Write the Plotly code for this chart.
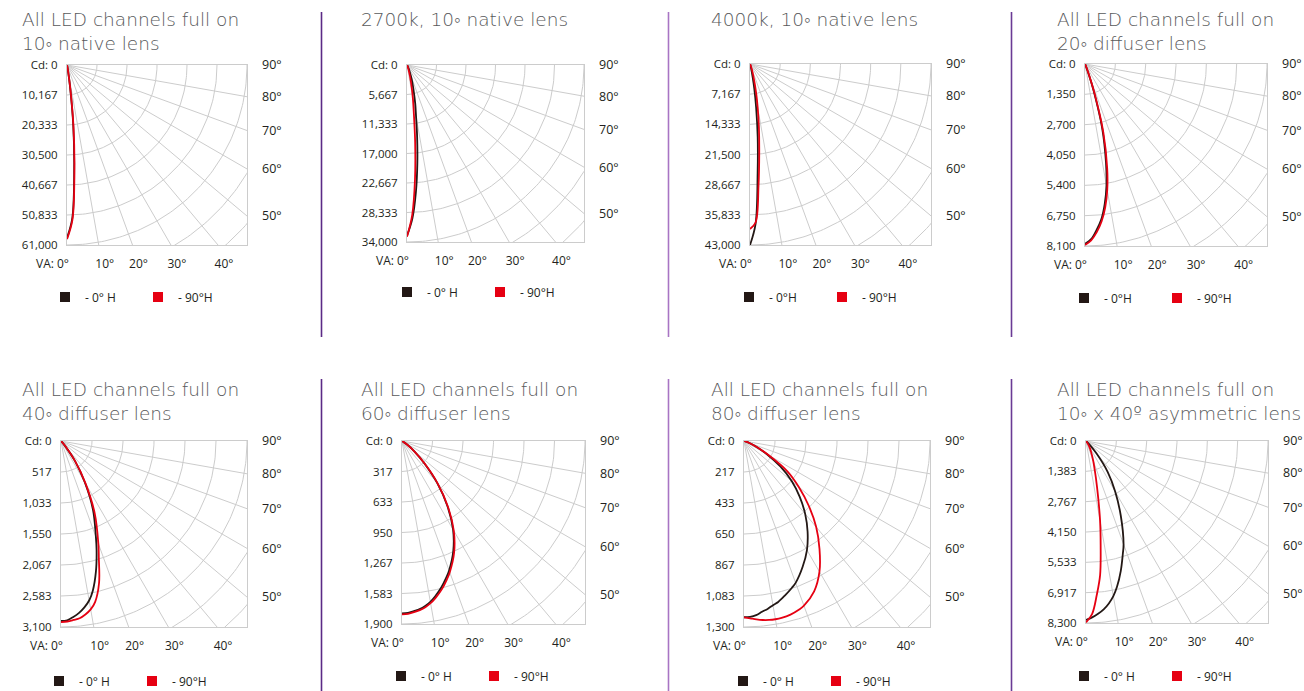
import numpy as np
import plotly.graph_objects as go

W, H = 1304, 691

# ---------------- data ----------------
ANGLES = [0, 2, 4, 6, 8, 10, 12, 15, 18, 20, 25, 30, 35, 40, 45, 50, 55, 60, 65, 70, 80, 90]

# luminous intensity (cd) per vertical angle, 0°H (black) and 90°H (red)
ALL_NATIVE10_0H = [58600, 51800, 35000, 20000, 7200, 1800, 500, 100, 0, 0, 0, 0, 0, 0, 0, 0, 0, 0, 0, 0, 0, 0]
ALL_NATIVE10_90H = [59000, 52500, 36000, 21000, 8000, 2200, 600, 100, 0, 0, 0, 0, 0, 0, 0, 0, 0, 0, 0, 0, 0, 0]
K2700_NATIVE10_0H = [32800, 29500, 24500, 19000, 14000, 10000, 7600, 4700, 3000, 2000, 800, 300, 0, 0, 0, 0, 0, 0, 0, 0, 0, 0]
K2700_NATIVE10_90H = [33000, 28800, 22000, 15000, 9500, 6500, 4300, 2200, 1100, 700, 200, 0, 0, 0, 0, 0, 0, 0, 0, 0, 0, 0]
K4000_NATIVE10_0H = [43000, 38000, 26000, 17500, 10500, 5800, 2700, 900, 300, 200, 0, 0, 0, 0, 0, 0, 0, 0, 0, 0, 0, 0]
K4000_NATIVE10_90H = [39200, 37700, 29000, 21000, 15200, 10500, 7000, 3400, 1600, 900, 200, 0, 0, 0, 0, 0, 0, 0, 0, 0, 0, 0]
ALL_DIFF20_0H = [8000, 7800, 7400, 6950, 6300, 5500, 4500, 2950, 1200, 450, 50, 0, 0, 0, 0, 0, 0, 0, 0, 0, 0, 0]
ALL_DIFF20_90H = [8050, 7850, 7500, 7050, 6450, 5700, 4750, 3150, 1350, 550, 80, 0, 0, 0, 0, 0, 0, 0, 0, 0, 0, 0]
ALL_DIFF40_0H = [3000, 2990, 2940, 2880, 2800, 2700, 2550, 2250, 1920, 1700, 1260, 790, 400, 90, 20, 0, 0, 0, 0, 0, 0, 0]
ALL_DIFF40_90H = [3020, 3010, 2990, 2970, 2920, 2850, 2740, 2450, 2040, 1820, 1330, 820, 410, 110, 20, 0, 0, 0, 0, 0, 0, 0]
ALL_DIFF60_0H = [1790, 1785, 1770, 1755, 1730, 1695, 1650, 1575, 1490, 1430, 1260, 1060, 820, 570, 330, 170, 60, 10, 0, 0, 0, 0]
ALL_DIFF60_90H = [1800, 1795, 1782, 1765, 1742, 1710, 1668, 1595, 1510, 1450, 1280, 1075, 830, 575, 335, 170, 60, 10, 0, 0, 0, 0]
ALL_DIFF80_0H = [1232, 1230, 1220, 1200, 1185, 1165, 1150, 1115, 1080, 1055, 970, 880, 775, 665, 550, 435, 310, 185, 95, 40, 5, 0]
ALL_DIFF80_90H = [1232, 1240, 1250, 1258, 1263, 1265, 1264, 1256, 1240, 1225, 1160, 1055, 920, 785, 640, 500, 370, 200, 95, 40, 5, 0]
ALL_ASYM_0H = [8160, 8050, 7900, 7720, 7480, 7180, 6800, 6130, 5430, 5010, 3750, 2660, 1720, 750, 200, 30, 0, 0, 0, 0, 0, 0]
ALL_ASYM_90H = [8270, 7900, 7040, 6150, 4800, 3700, 2700, 1750, 1200, 960, 550, 300, 120, 30, 0, 0, 0, 0, 0, 0, 0, 0]

# candela scale maxima and tick labels
CD_MAX = [61000, 34000, 43000, 8100, 3100, 1900, 1300, 8300]
CD_LABELS = [
    ["Cd: 0", "10,167", "20,333", "30,500", "40,667", "50,833", "61,000"],
    ["Cd: 0", "5,667", "11,333", "17,000", "22,667", "28,333", "34,000"],
    ["Cd: 0", "7,167", "14,333", "21,500", "28,667", "35,833", "43,000"],
    ["Cd: 0", "1,350", "2,700", "4,050", "5,400", "6,750", "8,100"],
    ["Cd: 0", "517", "1,033", "1,550", "2,067", "2,583", "3,100"],
    ["Cd: 0", "317", "633", "950", "1,267", "1,583", "1,900"],
    ["Cd: 0", "217", "433", "650", "867", "1,083", "1,300"],
    ["Cd: 0", "1,383", "2,767", "4,150", "5,533", "6,917", "8,300"],
]
VA_ANGLES = [10, 20, 30, 40]
VA_LABELS = ["10°", "20°", "30°", "40°"]
SIDE_ANGLES = [90, 80, 70, 60, 50]
SIDE_LABELS = ["90°", "80°", "70°", "60°", "50°"]

TITLES = [
    ["All LED channels full on", "10◦ native lens"],
    ["2700k, 10◦ native lens"],
    ["4000k, 10◦ native lens"],
    ["All LED channels full on", "20◦ diffuser lens"],
    ["All LED channels full on", "40◦ diffuser lens"],
    ["All LED channels full on", "60◦ diffuser lens"],
    ["All LED channels full on", "80◦ diffuser lens"],
    ["All LED channels full on", "10◦ x 40º asymmetric lens"],
]
SERIES_0H = [ALL_NATIVE10_0H, K2700_NATIVE10_0H, K4000_NATIVE10_0H, ALL_DIFF20_0H,
             ALL_DIFF40_0H, ALL_DIFF60_0H, ALL_DIFF80_0H, ALL_ASYM_0H]
SERIES_90H = [ALL_NATIVE10_90H, K2700_NATIVE10_90H, K4000_NATIVE10_90H, ALL_DIFF20_90H,
              ALL_DIFF40_90H, ALL_DIFF60_90H, ALL_DIFF80_90H, ALL_ASYM_90H]
NAMES_0H = ["- 0° H", "- 0° H", "- 0°H", "- 0°H", "- 0° H", "- 0° H", "- 0° H", "- 0° H"]
NAMES_90H = ["- 90°H", "- 90°H", "- 90°H", "- 90°H", "- 90°H", "- 90°H", "- 90°H", "- 90°H"]

# ---------------- layout (pixels) ----------------
BOX = [(67, 65, 180), (407, 65, 177), (750, 64, 181), (1085, 64, 182),
       (61, 441, 186), (402, 441, 183), (744, 441, 186), (1086, 441, 182)]
TITLE_TOP = [(20, 7), (359, 7), (709, 7), (1055, 7),
             (20, 377), (359, 377), (709, 377), (1055, 377)]
LEGEND_POS = [(68, 297), (410, 292), (752, 297), (1087, 298),
              (62, 681), (404, 676), (746, 681), (1087, 676)]
SEPARATORS = [(321.5, 12, 337, "#5b2a86"), (668.5, 12, 337, "#a875c4"), (1011.5, 12, 337, "#6a3a95"),
              (321.5, 379, 691, "#5b2a86"), (668.5, 379, 691, "#a875c4"), (1011.5, 379, 691, "#6a3a95")]

BLACK = "#231815"
RED = "#e60012"
GRID = "#cccccc"
TXT = "#231f20"
TITLE_C = "#58595b"
FONT = "'Open Sans', Lato, sans-serif"
TITLE_FONT = "'DejaVu Sans', 'Open Sans', sans-serif"


def px_x(v):
    return v / W


def px_y(v):
    return 1 - v / H


fig = go.Figure()
layout = dict(annotations=[], shapes=[])

for i in range(8):
    n = i + 1
    xa, ya, yr = f"x{n}", f"y{n}", f"y{n + 8}"
    bx, by, bs = BOX[i]
    cmax = CD_MAX[i]

    # grid: arcs and radial lines (polar grid of the candela diagram)
    gx, gy = [], []
    t = np.radians(np.linspace(0, 90, 91))
    for k in range(1, 9):
        r = cmax * k / 6
        gx += list(r * np.sin(t)) + [None]
        gy += list(r * np.cos(t)) + [None]
    for a in range(10, 90, 10):
        ar = np.radians(a)
        gx += [0, 2 * cmax * np.sin(ar), None]
        gy += [0, 2 * cmax * np.cos(ar), None]
    fig.add_trace(go.Scatter(x=gx, y=gy, mode="lines", line=dict(color=GRID, width=1),
                             hoverinfo="skip", showlegend=False, xaxis=xa, yaxis=ya))

    # intensity curves
    for vals, col in ((SERIES_0H[i], BLACK), (SERIES_90H[i], RED)):
        ang = np.array(ANGLES, dtype=float)
        v = np.array(vals, dtype=float)
        nz = np.nonzero(v)[0]
        end = min(nz[-1] + 2, len(v))
        ang, v = ang[:end], v[:end]
        th = np.radians(ang)
        fig.add_trace(go.Scatter(x=v * np.sin(th), y=v * np.cos(th), mode="lines",
                                 line=dict(color=col, width=1.8, shape="spline", smoothing=1.0),
                                 showlegend=False, xaxis=xa, yaxis=ya,
                                 hovertemplate="%{text}<extra></extra>",
                                 text=[f"VA {a:g}°: {c:,.0f} cd" for a, c in zip(ang, v)]))

    # legend entries (placed on the right-hand angle axis so that axis is drawn)
    lg = "legend" if n == 1 else f"legend{n}"
    for name, col in ((NAMES_0H[i], BLACK), (NAMES_90H[i], RED)):
        fig.add_trace(go.Scatter(x=[None], y=[None], mode="markers", name=name,
                                 marker=dict(symbol="square", size=10, color=col),
                                 legend=lg, xaxis=xa, yaxis=yr))
    lx, ly = LEGEND_POS[i]
    layout[lg] = dict(x=px_x(lx - 23), y=px_y(ly), xanchor="left", yanchor="middle",
                      orientation="h", entrywidth=48, entrywidthmode="pixels",
                      bgcolor="rgba(0,0,0,0)", font=dict(family=FONT, size=12, color=TXT),
                      itemclick=False, itemdoubleclick=False)

    dom_x = [px_x(bx), px_x(bx + bs)]
    dom_y = [px_y(by + bs), px_y(by)]
    xkey = "xaxis" if n == 1 else f"xaxis{n}"
    ykey = "yaxis" if n == 1 else f"yaxis{n}"
    layout[xkey] = dict(domain=dom_x, anchor=ya, range=[0, cmax], showgrid=False, zeroline=False,
                        showline=True, mirror=True, linecolor=GRID, linewidth=1,
                        tickmode="array",
                        tickvals=[cmax * np.tan(np.radians(a)) for a in VA_ANGLES],
                        ticktext=VA_LABELS, ticks="", ticklabelstandoff=8, ticklabelshift=6,
                        tickfont=dict(family=FONT, size=12, color=TXT), fixedrange=True)
    layout[ykey] = dict(domain=dom_y, anchor=xa, range=[cmax, 0], showgrid=False, zeroline=False,
                        showline=True, mirror=True, linecolor=GRID, linewidth=1,
                        tickmode="array", tickvals=[cmax * k / 6 for k in range(7)],
                        ticktext=CD_LABELS[i], ticks="", ticklabelstandoff=6,
                        tickfont=dict(family=FONT, size=11.5, color=TXT), fixedrange=True)
    layout[f"yaxis{n + 8}"] = dict(overlaying=ya, anchor=xa, side="right", range=[cmax, 0],
                                   showgrid=False, zeroline=False, showline=False,
                                   tickmode="array",
                                   tickvals=[cmax * np.cos(np.radians(a)) / np.sin(np.radians(a)) for a in SIDE_ANGLES],
                                   ticktext=SIDE_LABELS, ticks="", ticklabelstandoff=14,
                                   tickfont=dict(family=FONT, size=12.5, color=TXT), fixedrange=True)

    # "VA: 0°" label at the origin column
    layout["annotations"].append(dict(x=0, y=cmax, xref=xa, yref=ya, text="VA: 0°", showarrow=False,
                                      xanchor="right", yanchor="top", xshift=4, yshift=-8,
                                      font=dict(family=FONT, size=12, color=TXT)))
    # title
    tx, ty = TITLE_TOP[i]
    layout["annotations"].append(dict(x=px_x(tx), y=px_y(ty), xref="paper", yref="paper",
                                      text="<br>".join(TITLES[i]), showarrow=False, align="left",
                                      xanchor="left", yanchor="top",
                                      font=dict(family=TITLE_FONT, size=18.5, color=TITLE_C, weight=200)))

for sx, y0, y1, col in SEPARATORS:
    layout["shapes"].append(dict(type="line", xref="paper", yref="paper", x0=px_x(sx), x1=px_x(sx),
                                 y0=px_y(y0), y1=px_y(y1), line=dict(color=col, width=1.6)))

fig.update_layout(**layout)
fig.update_layout(width=W, height=H, autosize=False,
                  margin=dict(l=0, r=0, t=0, b=0, pad=0, autoexpand=False),
                  paper_bgcolor="white", plot_bgcolor="white", hovermode="closest")

fig.write_html("out.html", config={"displayModeBar": False},
               post_script="document.documentElement.style.overflow='hidden';"
                           "document.body.style.margin='0px';document.body.style.overflow='hidden';")
